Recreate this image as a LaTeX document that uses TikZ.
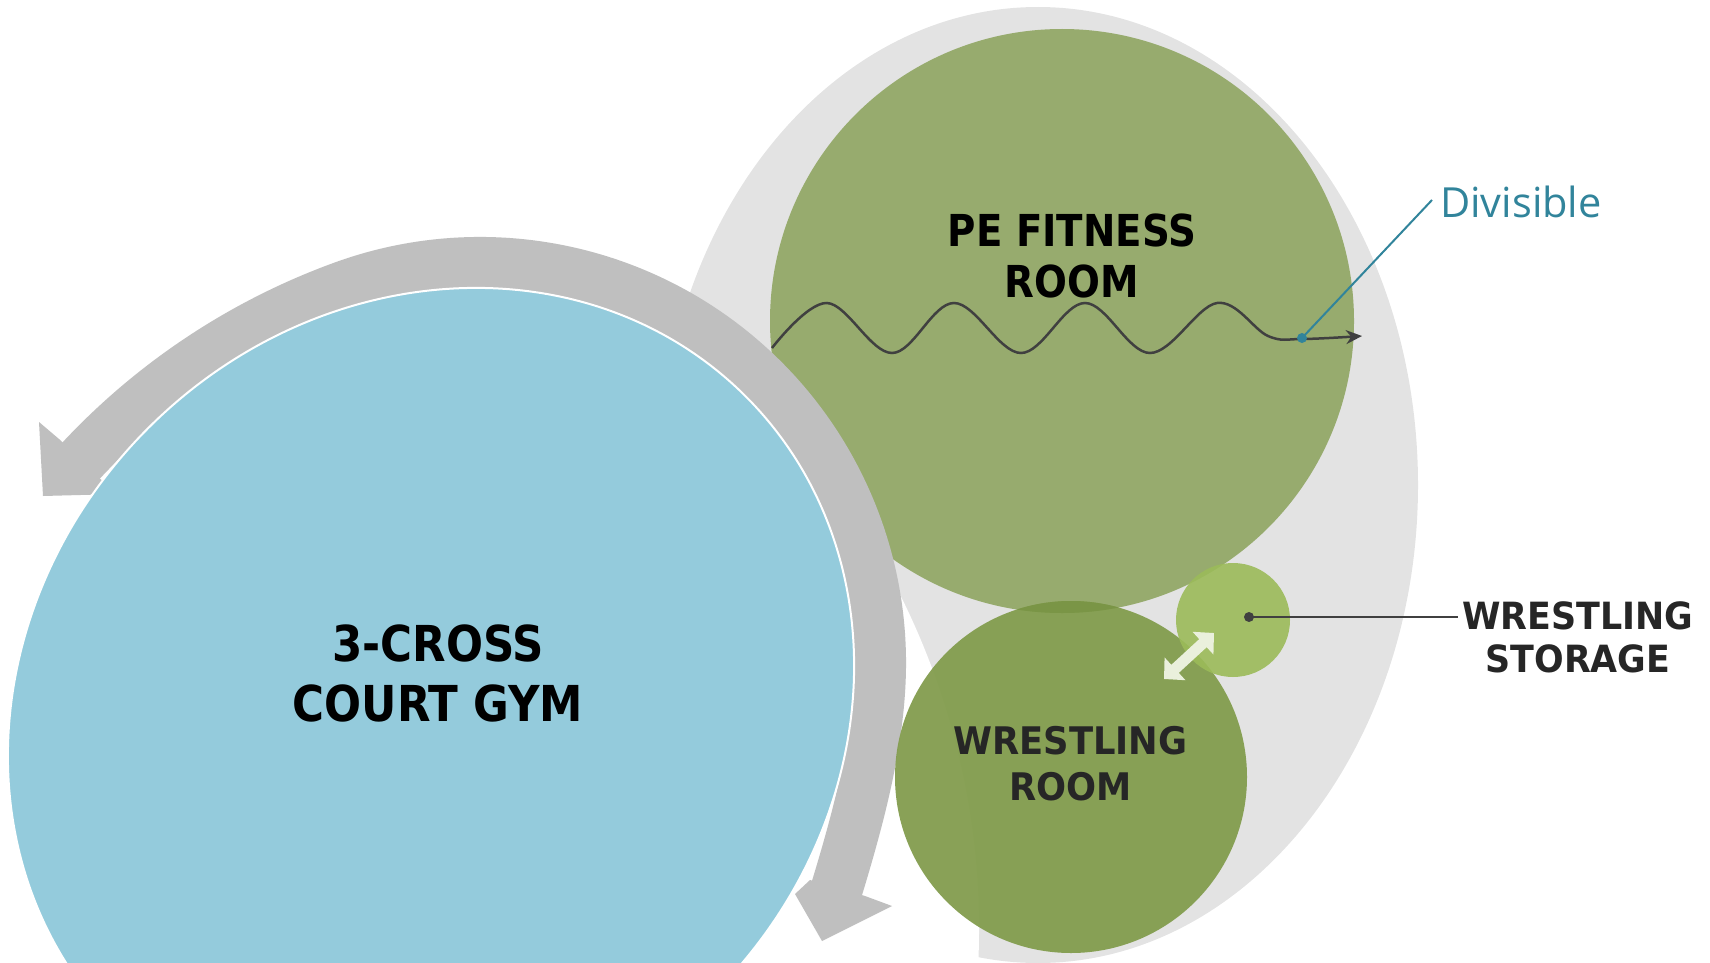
\documentclass[tikz,border=0pt]{standalone}
\usepackage{fontspec}
\newfontfamily\labelfont[FakeStretch=0.88]{DejaVu Sans}
\newfontfamily\labelfontw[FakeStretch=0.93]{DejaVu Sans}
\newfontfamily\divfont{Open Sans}
\usetikzlibrary{arrows.meta}
\definecolor{graybg}{HTML}{E3E3E3}
\definecolor{bandgray}{HTML}{BFBFBF}
\definecolor{gymblue}{HTML}{94CBDC}
\definecolor{pegreen}{HTML}{97AB6E}
\definecolor{wrgreen}{HTML}{839D4E}
\definecolor{wrdark}{HTML}{7A9546}
\definecolor{stgreen}{HTML}{9BBB59}
\definecolor{tealc}{HTML}{31849B}
\definecolor{wavec}{HTML}{404040}
\definecolor{darktext}{HTML}{262626}
\definecolor{arrc}{HTML}{EAF0DC}
\begin{document}
\begin{tikzpicture}[x=1pt,y=-1pt,
  biglabel/.style={font={\labelfont\bfseries\fontsize{49.5}{59.5}\selectfont}, align=center, inner sep=0pt, text=black},
  pelabel/.style={font={\labelfont\bfseries\fontsize{44}{51}\selectfont}, align=center, inner sep=0pt, text=black},
  wrlabel/.style={font={\labelfontw\bfseries\fontsize{38}{46}\selectfont}, align=center, inner sep=0pt, text=darktext},
  stlabel/.style={font={\labelfontw\bfseries\fontsize{37.5}{43}\selectfont}, align=center, inner sep=0pt, text=darktext},
  leader/.style={line width=2.5pt, draw=wavec},
  tealleader/.style={line width=2pt, draw=tealc}]
\useasboundingbox (0,0) rectangle (1710,963);
\clip (0,0) rectangle (1710,963);
% background crescent
\fill[graybg] (1038,485) ellipse [x radius=380, y radius=478];
\fill[white] (229,930) circle [radius=750];
% PE fitness room
\coordinate (pec) at (1062,321);
\fill[pegreen] (pec) circle [radius=292];
% divisible wave
\draw[wavec, line width=2.5pt, -{Stealth[length=16pt,width=14pt]}]
  plot[smooth, tension=0.6] coordinates {(772,348) (827,303) (892,353) (954,303) (1021,353) (1085,303) (1150,353) (1217,303) (1268,336) (1302,339) (1362,336)};
% circulation band
\coordinate (bandA) at (77,465);
\coordinate (bandB) at (836,891);
\draw[bandgray, line width=52pt]
  (bandA) -- (81.2,460.5) arc [start angle=223, end angle=250, radius=673]
  arc [start angle=250, end angle=360, radius=400]
  .. controls (880,738) and (858.8,816.2) .. (837,888) -- (bandB);
\fill[bandgray] (59,439) -- (39,422) -- (43,496) -- (118,494) -- (98,477) -- cycle;
\fill[bandgray] (810,880) -- (795,894) -- (822,941) -- (892,906) -- (865,896) -- cycle;
% gym
\coordinate (gymc) at (431,711);
\filldraw[fill=gymblue, draw=white, line width=2pt, rotate around={45:(gymc)}] (gymc) ellipse [x radius=445, y radius=400];
% wrestling room
\coordinate (wrc) at (1071,777);
\fill[wrgreen, opacity=0.95] (wrc) circle [radius=176];
\begin{scope}
  \clip (pec) circle [radius=292];
  \fill[wrdark] (wrc) circle [radius=176];
\end{scope}
% storage
\coordinate (stc) at (1233,620);
\fill[stgreen, opacity=0.9] (stc) circle [radius=57];
\coordinate (arA) at (1164,679);
\coordinate (arB) at (1214,633);
\draw[arrc, line width=11pt, {Triangle[length=15pt,width=30pt]}-{Triangle[length=15pt,width=30pt]}] (arA) -- (arB);
% labels
\node[biglabel] (gym) at (438,673.5) {3-CROSS\\COURT GYM};
\node[pelabel] (pe) at (1072,256) {PE FITNESS\\ROOM};
\node[wrlabel] (wr) at (1070.5,763.5) {WRESTLING\\ROOM};
\node[stlabel] (st) at (1578,637) {WRESTLING\\STORAGE};
\node[font={\divfont\fontsize{41.5}{50}\selectfont}, text=tealc, inner sep=0pt, anchor=base west] (div) at (1440,217) {Divisible};
% leaders
\coordinate (stdot) at (1249,617);
\coordinate (stend) at (1458,617);
\fill[wavec] (stdot) circle [radius=5];
\draw[leader] (stdot) -- (stend);
\coordinate (divdot) at (1302,338);
\coordinate (divend) at (1432,200);
\draw[tealleader] (divdot) -- (divend);
\fill[tealc] (divdot) circle [radius=5];
\end{tikzpicture}
\end{document}
